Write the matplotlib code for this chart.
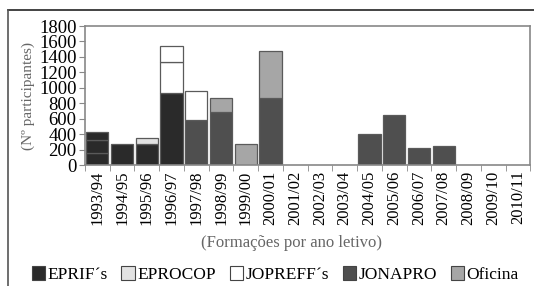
import numpy as np
import matplotlib.pyplot as plt
from matplotlib.patches import Patch
from matplotlib.lines import Line2D

plt.rcParams['font.family'] = ['Liberation Serif', 'DejaVu Serif']

anos = ['1993/94', '1994/95', '1995/96', '1996/97', '1997/98', '1998/99',
        '1999/00', '2000/01', '2001/02', '2002/03', '2003/04', '2004/05',
        '2005/06', '2006/07', '2007/08', '2008/09', '2009/10', '2010/11']

# cada série pode ter vários segmentos empilhados por ano (várias edições)
eprif = [[160, 170, 100], [270], [270], [930], [], [], [], [], [], [], [], [], [], [], [], [], [], []]
eprocop = [[], [], [85], [], [], [], [], [], [], [], [], [], [], [], [], [], [], []]
jonapro = [[], [], [], [], [580], [690], [], [870], [], [], [], [400], [650], [220], [250], [], [], []]
jopreff = [[], [], [], [410, 200], [380], [], [], [], [], [], [], [], [], [], [], [], [], []]
oficina = [[], [], [], [], [], [180], [275], [610], [], [], [], [], [], [], [], [], [], []]

series = ['EPRIF´s', 'EPROCOP', 'JOPREFF´s', 'JONAPRO', 'Oficina']
cores = {'EPRIF´s': '#2a2a2a', 'EPROCOP': '#e2e2e2', 'JOPREFF´s': '#ffffff',
         'JONAPRO': '#4f4f4f', 'Oficina': '#a6a6a6'}
ordem = [('EPRIF´s', eprif), ('EPROCOP', eprocop), ('JONAPRO', jonapro),
         ('JOPREFF´s', jopreff), ('Oficina', oficina)]

fig = plt.figure(figsize=(5.34, 2.86), dpi=100)
ax = fig.add_axes([0.159, 0.423, 0.834, 0.486])

x = np.arange(len(anos))
base = np.zeros(len(anos))
for nome, dados in ordem:
    for i, segs in enumerate(dados):
        for v in segs:
            ax.bar(x[i], v, bottom=base[i], width=0.9, color=cores[nome],
                   edgecolor='#5a5a5a', linewidth=0.9)
            base[i] += v

ax.set_xlim(-0.5, len(anos) - 0.5)
ax.set_ylim(0, 1800)
ax.set_yticks(np.arange(0, 1801, 200))
ax.set_xticks(x)
ax.set_xticklabels(anos, rotation=90, fontsize=12)
ax.set_xticks(np.arange(-0.5, len(anos), 1), minor=True)
ax.tick_params(axis='x', which='major', length=0, pad=4)
ax.tick_params(axis='x', which='minor', length=4, color='#888888')
ax.tick_params(axis='y', labelsize=13.5, length=4, color='#888888', pad=2)
for s in ax.spines.values():
    s.set_color('#888888')
    s.set_linewidth(1.2)

ax.set_ylabel('(Nº participantes)', fontsize=11, color='#666666', labelpad=3)
fig.text(0.545, 0.15, '(Formações por ano letivo)', fontsize=12,
         color='#666666', ha='center', va='center')

handles = [Patch(facecolor=cores[n], edgecolor='#444444', linewidth=0.8) for n in series]
fig.legend(handles, series, loc='center', bbox_to_anchor=(0.515, 0.04), ncol=5,
           frameon=False, fontsize=12.5, handlelength=0.8, handleheight=0.8,
           handletextpad=0.1, columnspacing=0.8, borderaxespad=0)

# moldura exterior
fig.add_artist(Line2D([8 / 534, 1.0], [1 - 10 / 286, 1 - 10 / 286],
                      transform=fig.transFigure, color='#222222', linewidth=1.2))
fig.add_artist(Line2D([8 / 534, 8 / 534], [0, 1 - 10 / 286],
                      transform=fig.transFigure, color='#555555', linewidth=1.2))

fig.savefig('out.png', dpi=100)
